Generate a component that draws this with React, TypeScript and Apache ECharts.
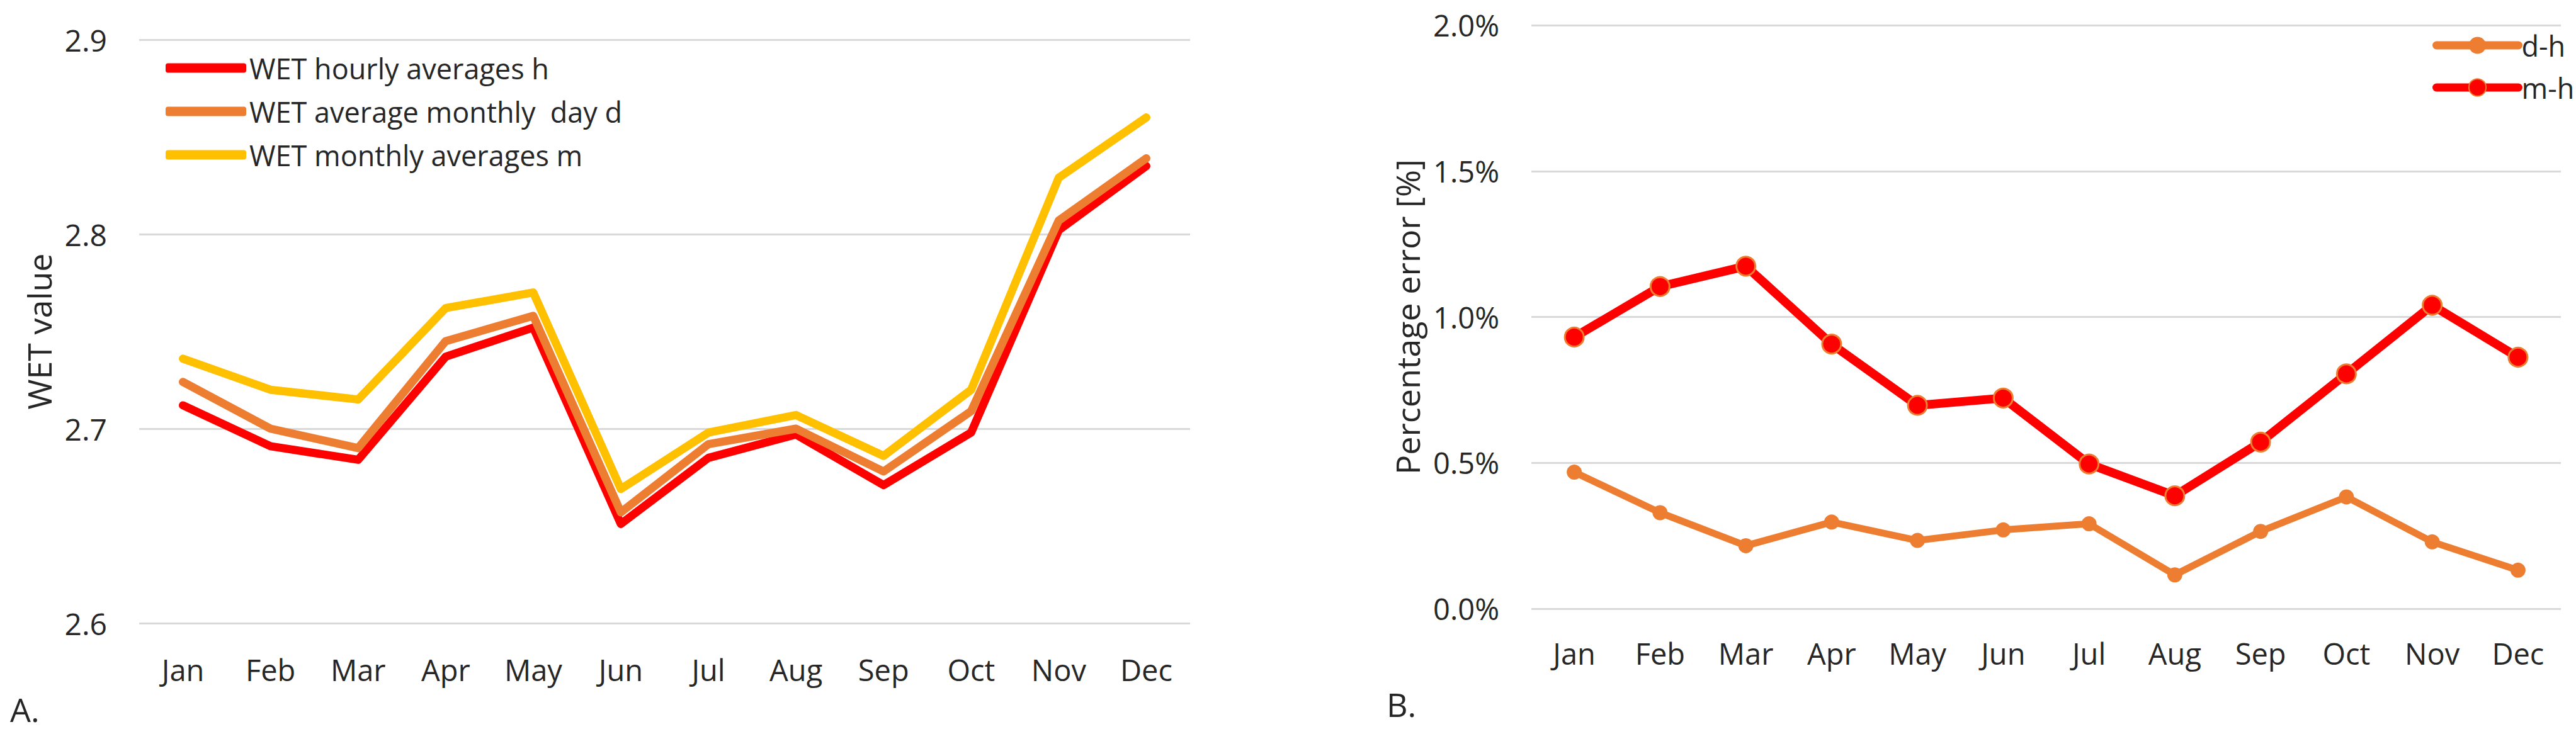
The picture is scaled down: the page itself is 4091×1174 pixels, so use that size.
import React, { useEffect, useRef } from "react";
import * as echarts from "echarts";

const months = ["Jan", "Feb", "Mar", "Apr", "May", "Jun", "Jul", "Aug", "Sep", "Oct", "Nov", "Dec"];

// Panel A: WET values
const wetHourly = [2.712, 2.691, 2.684, 2.737, 2.752, 2.651, 2.685, 2.697, 2.671, 2.698, 2.802, 2.835];
const wetDay = [2.724, 2.700, 2.690, 2.745, 2.758, 2.657, 2.692, 2.700, 2.678, 2.709, 2.807, 2.839];
const wetMonthly = [2.736, 2.720, 2.715, 2.762, 2.770, 2.669, 2.698, 2.707, 2.686, 2.720, 2.829, 2.860];

// Panel B: percentage errors [%]
const errDH = [0.468, 0.329, 0.216, 0.297, 0.234, 0.270, 0.291, 0.116, 0.265, 0.383, 0.229, 0.132];
const errMH = [0.931, 1.104, 1.174, 0.907, 0.697, 0.722, 0.496, 0.387, 0.571, 0.805, 1.040, 0.862];

const nameH = "WET hourly averages h";
const nameD = "WET average monthly  day d";
const nameM = "WET monthly averages m";

const FONT = "'Open Sans', sans-serif";
const TXT = "#262626";
const GRID = "#D9D9D9";
const RED = "#FF0000";
const ORANGE = "#ED7D31";
const YELLOW = "#FFC000";

export default function App() {
  const ref = useRef<HTMLDivElement>(null);
  useEffect(() => {
    document.body.style.margin = "0";
    const chart = echarts.init(ref.current as HTMLDivElement, null, { renderer: "svg" });
    const catAxis = (gridIndex: number, margin: number) => ({
      type: "category",
      gridIndex,
      data: months,
      axisLine: { show: false },
      axisTick: { show: false },
      axisLabel: { fontSize: 47, color: TXT, fontFamily: FONT, margin },
    });
    chart.setOption({
      animation: false,
      backgroundColor: "#ffffff",
      textStyle: { fontFamily: FONT },
      grid: [
        { left: 221, top: 63, width: 1669, height: 927 },
        { left: 2432, top: 40, width: 1635, height: 927 },
      ],
      xAxis: [catAxis(0, 50), catAxis(1, 47)],
      yAxis: [
        {
          type: "value",
          gridIndex: 0,
          min: 2.6,
          max: 2.9,
          interval: 0.1,
          axisLine: { show: false },
          axisTick: { show: false },
          axisLabel: {
            fontSize: 48,
            color: TXT,
            fontFamily: FONT,
            margin: 51,
            formatter: (v: number) => v.toFixed(1),
          },
          splitLine: { lineStyle: { color: GRID, width: 3 } },
          name: "WET value",
          nameLocation: "middle",
          nameGap: 134,
          nameTextStyle: { fontSize: 52, color: TXT, fontFamily: FONT },
        },
        {
          type: "value",
          gridIndex: 1,
          min: 0,
          max: 2,
          interval: 0.5,
          axisLine: { show: false },
          axisTick: { show: false },
          axisLabel: {
            fontSize: 47,
            color: TXT,
            fontFamily: FONT,
            margin: 51,
            formatter: (v: number) => v.toFixed(1) + "%",
          },
          splitLine: { lineStyle: { color: GRID, width: 3 } },
          name: "Percentage error [%]",
          nameLocation: "middle",
          nameGap: 172,
          nameTextStyle: { fontSize: 52, color: TXT, fontFamily: FONT },
        },
      ],
      legend: [
        {
          orient: "vertical",
          left: 258,
          top: 78,
          data: [nameH, nameD, nameM],
          icon: "roundRect",
          itemWidth: 128,
          itemHeight: 15,
          itemGap: 19,
          textStyle: { fontSize: 45, lineHeight: 50, color: TXT, fontFamily: FONT },
        },
        {
          orient: "vertical",
          left: 3858,
          top: 42,
          data: ["d-h", "m-h"],
          itemWidth: 130,
          itemHeight: 34,
          itemGap: 17,
          lineStyle: { width: 13, cap: "round" },
          textStyle: { fontSize: 45, lineHeight: 50, color: TXT, fontFamily: FONT },
        },
      ],
      series: [
        {
          name: nameH,
          type: "line",
          xAxisIndex: 0,
          yAxisIndex: 0,
          data: wetHourly,
          symbol: "none",
          color: RED,
          lineStyle: { color: RED, width: 13, cap: "round", join: "round" },
        },
        {
          name: nameD,
          type: "line",
          xAxisIndex: 0,
          yAxisIndex: 0,
          data: wetDay,
          symbol: "none",
          color: ORANGE,
          lineStyle: { color: ORANGE, width: 13, cap: "round", join: "round" },
        },
        {
          name: nameM,
          type: "line",
          xAxisIndex: 0,
          yAxisIndex: 0,
          data: wetMonthly,
          symbol: "none",
          color: YELLOW,
          lineStyle: { color: YELLOW, width: 13, cap: "round", join: "round" },
        },
        {
          name: "d-h",
          type: "line",
          xAxisIndex: 1,
          yAxisIndex: 1,
          data: errDH,
          symbol: "circle",
          symbolSize: 24,
          color: ORANGE,
          itemStyle: { color: ORANGE },
          lineStyle: { color: ORANGE, width: 11, cap: "round", join: "round" },
        },
        {
          name: "m-h",
          type: "line",
          xAxisIndex: 1,
          yAxisIndex: 1,
          data: errMH,
          symbol: "circle",
          symbolSize: 30,
          color: RED,
          itemStyle: { color: RED, borderColor: ORANGE, borderWidth: 3 },
          lineStyle: { color: RED, width: 14, cap: "round", join: "round" },
        },
      ],
      graphic: [
        {
          type: "text",
          left: 16,
          top: 1100,
          style: { text: "A.", fontSize: 52, fill: TXT, fontFamily: FONT },
        },
        {
          type: "text",
          left: 2202,
          top: 1092,
          style: { text: "B.", fontSize: 52, fill: TXT, fontFamily: FONT },
        },
      ],
    });
    return () => chart.dispose();
  }, []);
  return <div ref={ref} style={{ width: 4091, height: 1174, background: "#fff" }} />;
}
